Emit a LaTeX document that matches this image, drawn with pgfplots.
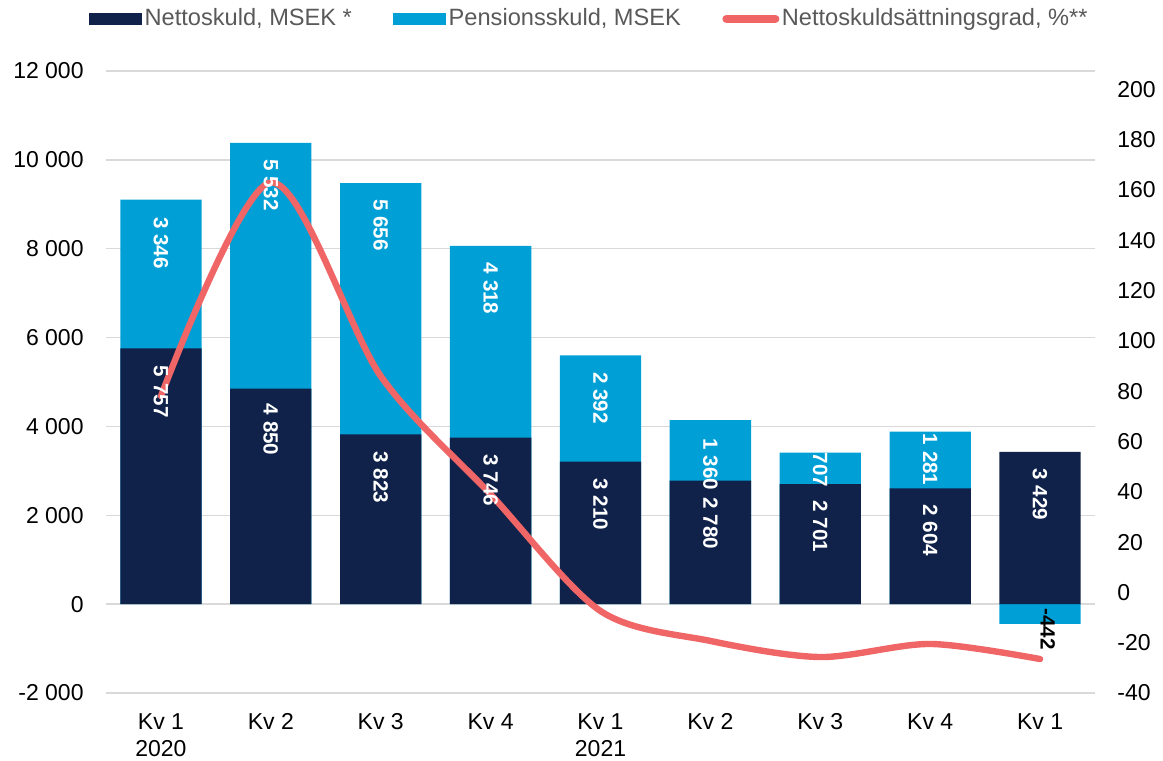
\documentclass[border=0pt]{standalone}
\usepackage{pgfplots}
\pgfplotsset{compat=1.18}
\usepackage{pgfplotstable}
\usepackage{fontspec}
\setmainfont{Liberation Sans}
\definecolor{navy}{HTML}{10224A}
\definecolor{lblue}{HTML}{00A0D6}
\definecolor{lred}{HTML}{F06566}
\definecolor{gridc}{HTML}{D9D9D9}
\definecolor{legtxt}{HTML}{595959}

\pgfplotstableread{
x netto pension total line
0 5757 3346 9103 78
1 4850 5532 10382 163
2 3823 5656 9479 86
3 3746 4318 8064 39
4 3210 2392 5602 -7.4
5 2780 1360 4140 -19.3
6 2701 707 3408 -25.7
7 2604 1281 3885 -20.5
8 3429 -442 -442 -26.5
}\data

\pgfplotstableread{
x y v
0 8718 3346
1 10022 5532
2 9123 5656
3 7689 4318
4 5227 2392
5 3730 1360
6 3415 707
7 3842 1281
}\penlab

\pgfplotstableread{
x y v
0 5370 5757
1 4517 4850
2 3438 3823
3 3371 3746
4 2835 3210
5 2404 2780
6 2337 2701
7 2247 2604
8 3056 3429
}\netlab

\pgfplotstableread{
x y v
8.07 -90 -442
}\neglab

\begin{document}
\begin{tikzpicture}
\pgfplotsset{
  base/.style={
    width=494.5pt, height=311pt, scale only axis,
    xmin=-0.5, xmax=8.5,
    axis line style={draw=none},
    major tick length=0pt,
    tick style={draw=none},
    scaled y ticks=false,
    every tick label/.append style={inner sep=0pt, font=\fontsize{11.5}{13.8}\selectfont, text=black},
    clip=false,
  },
  lab/.style={draw=none, mark=none, nodes near coords, point meta=explicit,
    nodes near coords style={rotate=-90, anchor=west, inner sep=0pt, text=#1,
      font=\fontsize{10.3}{12}\selectfont\bfseries,
      /pgf/number format/.cd, fixed, precision=0, 1000 sep={\ }, assume math mode=true}},
}
\begin{axis}[base, name=main,
  ymin=-2000, ymax=12000,
  ytick={-2000,0,...,12000},
  yticklabels={-2 000,0,2 000,4 000,6 000,8 000,10 000,12 000},
  yticklabel style={xshift=-11pt},
  ymajorgrids, major grid style={draw=gridc, line width=0.75pt},
  xtick={0,...,8},
  xticklabels={{Kv 1\\2020},Kv 2,Kv 3,Kv 4,{Kv 1\\2021},Kv 2,Kv 3,Kv 4,Kv 1},
  xticklabel style={align=center, yshift=-10pt},
  ybar, bar width=0.74, bar shift=0pt,
  legend columns=3,
  legend style={at={(0,1)}, anchor=west, xshift=-8.5pt, yshift=26.1pt,
    draw=none, fill=none, inner sep=0pt,
    font=\fontsize{11.8}{14}\selectfont, text=legtxt,
    nodes={inner sep=1.25pt},
    /tikz/every even column/.append style={column sep=19.5pt}},
  legend cell align=left,
]
\addlegendimage{legend image code/.code={\fill[navy] (0pt,-2.75pt) rectangle (26pt,2.75pt);}}
\addlegendentry{Nettoskuld, MSEK *}
\addlegendimage{legend image code/.code={\fill[lblue] (0pt,-2.75pt) rectangle (26pt,2.75pt);}}
\addlegendentry{Pensionsskuld, MSEK}
\addlegendimage{legend image code/.code={\draw[lred, line width=4pt, line cap=round] (2pt,0pt) -- (26.5pt,0pt);}}
\addlegendentry{Nettoskuldsättningsgrad, \%**}
\addplot[fill=lblue, draw=none, forget plot] table[x=x,y=total]{\data};
\addplot[fill=navy, draw=none, forget plot] table[x=x,y=netto]{\data};
\end{axis}

\begin{axis}[base,
  ymin=-40, ymax=207.3,
  ytick={-40,-20,...,200},
  yticklabels={-40,-20,0,20,40,60,80,100,120,140,160,180,200},
  yticklabel pos=right,
  yticklabel style={xshift=11pt},
  xtick=\empty,
]
\addplot[lred, line width=3.2pt, smooth, line cap=round, line join=round] table[x=x,y=line]{\data};
\end{axis}

\begin{axis}[base, hide axis, ymin=-2000, ymax=12000]
\addplot[lab=white] table[x=x,y=y,meta=v]{\penlab};
\addplot[lab=white] table[x=x,y=y,meta=v]{\netlab};
\addplot[lab=black] table[x=x,y=y,meta=v]{\neglab};
\end{axis}

\pgfresetboundingbox
\useasboundingbox ([shift={(-53pt,-33.5pt)}]main.south west) rectangle ([shift={(34pt,35.5pt)}]main.north east);
\end{tikzpicture}
\end{document}
